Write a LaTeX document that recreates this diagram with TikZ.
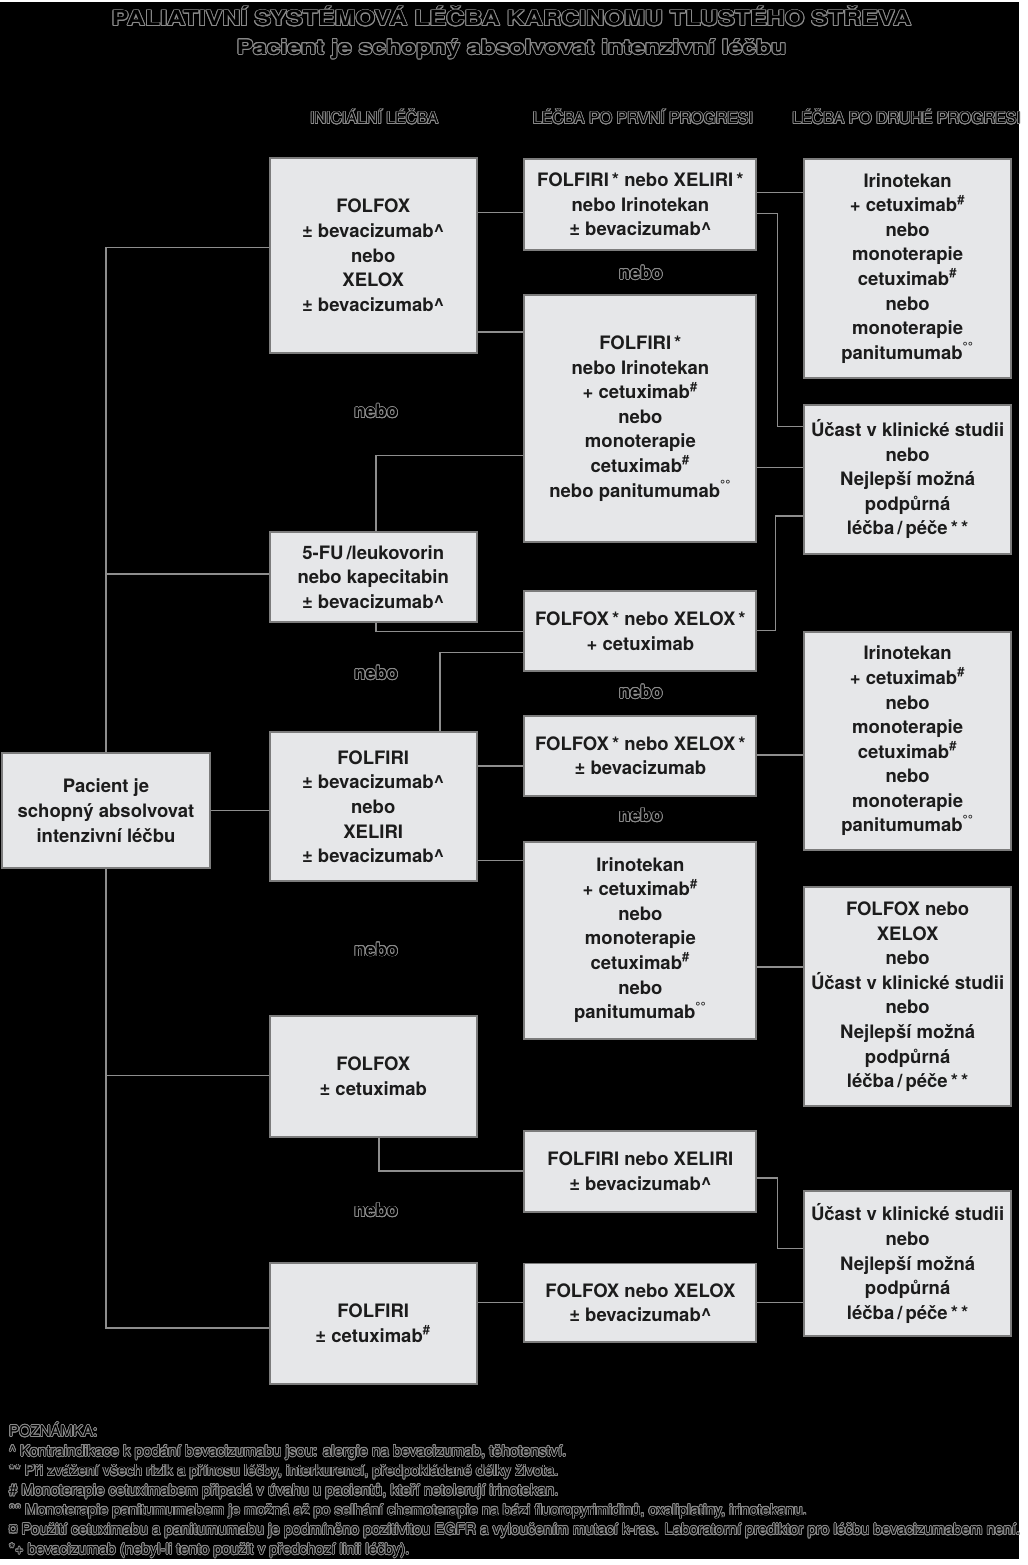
\documentclass[tikz,border=0pt]{standalone}
\usepackage{fontspec}
\setmainfont{TeX Gyre Heros}
\usepackage{contour}
\contourlength{0.4pt}
\definecolor{cBox}{HTML}{E6E7E9}
\definecolor{cEdge}{HTML}{7C7C7C}
\definecolor{cWire}{HTML}{8E8E8E}
\definecolor{cInk}{HTML}{1C1C1C}
\definecolor{cHalo}{HTML}{8A8A8A}
\usetikzlibrary{calc}
\newcommand{\sharpsup}{\textsuperscript{\#}}
\newcommand{\ringsup}{\textsuperscript{°°}}
\newcommand{\caretsup}{\textasciicircum}
\newcommand{\halo}[1]{\contour{cHalo}{#1}}

\begin{document}
\begin{tikzpicture}[x=0.5pt,y=-0.5pt,
      box/.style={draw=cEdge,line width=1pt,fill=cBox,text=cInk,inner sep=0pt,
        align=center,font=\fontsize{9.3}{12.35}\selectfont\bfseries},
      ini/.style={box,minimum width=104pt},
      prv/.style={box,minimum width=116.5pt},
      drh/.style={box,minimum width=104pt},
      wire/.style={draw=cWire,line width=0.75pt},
      orlab/.style={font=\fontsize{9.2}{11}\selectfont\bfseries,text=black},
      colhead/.style={font=\fontsize{8}{10}\selectfont,text=black,anchor=base},
      note/.style={font=\fontsize{7.55}{9}\selectfont,text=black,anchor=base west}]
    % page
    \fill[black] (0,0) rectangle (1024,1565);
    % title + column heads
    \node[font=\fontsize{10.5}{12}\selectfont\bfseries,text=black,anchor=base] (ttl) at (514,24.5)
      {\scalebox{1.2}[1]{\halo{PALIATIVNÍ SYSTÉMOVÁ LÉČBA KARCINOMU TLUSTÉHO STŘEVA}}};
    \node[font=\fontsize{10}{12}\selectfont\bfseries,text=black,anchor=base] (sub) at (514,53)
      {\scalebox{1.24}[1]{\halo{Pacient je schopný absolvovat intenzivní léčbu}}};
    \node[colhead] (hIni) at (376,123) {\halo{INICIÁLNÍ LÉČBA}};
    \node[colhead] (hPrv) at (646,123) {\halo{LÉČBA PO PRVNÍ PROGRESI}};
    \node[colhead] (hDrh) at (911,123) {\halo{LÉČBA PO DRUHÉ PROGRESI}};

    % start
    \node[box,minimum width=104.5pt,minimum height=58pt] (pac) at (106.5,813)
      {Pacient je\\schopný absolvovat\\intenzivní léčbu};

    % initial treatment
    \node[ini,minimum height=98pt] (i1) at (375,255)
      {FOLFOX\\± bevacizumab\caretsup\\nebo\\XELOX\\± bevacizumab\caretsup};
    \node[ini,minimum height=45pt] (i2) at (375,578)
      {5-FU\,/leukovorin\\nebo kapecitabin\\± bevacizumab\caretsup};
    \node[ini,minimum height=75pt] (i3) at (375,809)
      {FOLFIRI\\± bevacizumab\caretsup\\nebo\\XELIRI\\± bevacizumab\caretsup};
    \node[ini,minimum height=61pt] (i4) at (375,1080) {FOLFOX\\± cetuximab};
    \node[ini,minimum height=61pt] (i5) at (375,1328) {FOLFIRI\\± cetuximab\sharpsup};

    % after first progression
    \node[prv,minimum height=46pt] (p1) at (643.5,204)
      {FOLFIRI\,*\ nebo XELIRI\,*\\nebo Irinotekan\\± bevacizumab\caretsup};
    \node[prv,minimum height=124pt] (p2) at (643.5,419)
      {FOLFIRI\,*\\nebo Irinotekan\\+ cetuximab\sharpsup\\nebo\\monoterapie\\cetuximab\sharpsup\\nebo panitumumab\ringsup};
    \node[prv,minimum height=40.5pt] (p3) at (643.5,632.5)
      {FOLFOX\,*\ nebo XELOX\,*\\+ cetuximab};
    \node[prv,minimum height=40pt] (p4) at (643.5,758)
      {FOLFOX\,*\ nebo XELOX\,*\\± bevacizumab};
    \node[prv,minimum height=99pt] (p5) at (643.5,943)
      {Irinotekan\\+ cetuximab\sharpsup\\nebo\\monoterapie\\cetuximab\sharpsup\\nebo\\panitumumab\ringsup};
    \node[prv,minimum height=40.5pt] (p6) at (643.5,1175.5)
      {FOLFIRI nebo XELIRI\\± bevacizumab\caretsup};
    \node[prv,minimum height=39.5pt] (p7) at (643.5,1307.5)
      {FOLFOX nebo XELOX\\± bevacizumab\caretsup};

    % after second progression
    \node[drh,minimum height=110pt] (s1) at (912,268)
      {Irinotekan\\+ cetuximab\sharpsup\\nebo\\monoterapie\\cetuximab\sharpsup\\nebo\\monoterapie\\panitumumab\ringsup};
    \node[drh,minimum height=75pt] (s2) at (912,480)
      {Účast v klinické studii\\nebo\\Nejlepší možná\\podpůrná\\léčba\,/\,péče\,*\,*};
    \node[drh,minimum height=110pt] (s3) at (912,743)
      {Irinotekan\\+ cetuximab\sharpsup\\nebo\\monoterapie\\cetuximab\sharpsup\\nebo\\monoterapie\\panitumumab\ringsup};
    \node[drh,minimum height=110pt] (s4) at (912,1000)
      {FOLFOX nebo\\XELOX\\nebo\\Účast v klinické studii\\nebo\\Nejlepší možná\\podpůrná\\léčba\,/\,péče\,*\,*};
    \node[drh,minimum height=73pt] (s5) at (912,1268)
      {Účast v klinické studii\\nebo\\Nejlepší možná\\podpůrná\\léčba\,/\,péče\,*\,*};

    % "nebo" between alternatives
    \foreach \x/\y [count=\k] in {378/412,378/675,378/953,378/1215,644/273,644/694,644/818}
      \node[orlab] (nebo\k) at (\x,\y) {\halo{nebo}};

    % trunk
    \draw[wire] (pac.north) |- ($(i1.west)+(0,-8)$);
    \draw[wire] (pac.north) |- ($(i2.west)+(0,-3)$);
    \draw[wire] (pac.east) -- (pac.east -| i3.west);
    \draw[wire] (pac.south) |- ($(i4.west)+(0,-1)$);
    \draw[wire] (pac.south) |- ($(i5.west)+(0,5)$);
    % initial -> first progression
    \draw[wire] ($(i1.east)+(0,-43)$) -- ($(p1.west)+(0,8)$);
    \draw[wire] ($(i1.east)+(0,77)$) -- ($(p2.west)+(0,-87)$);
    \draw[wire] ($(i2.north)+(3,0)$) |- ($(p2.west)+(0,37)$);
    \draw[wire] ($(i2.south)+(3,0)$) |- ($(p3.west)+(0,0.5)$);
    \draw[wire] ($(i3.north)+(67,0)$) |- ($(p3.west)+(0,21.5)$);
    \draw[wire] ($(i3.east)+(0,-41)$) -- ($(p4.west)+(0,10)$);
    \draw[wire] ($(i3.east)+(0,54)$) -- ($(p5.west)+(0,-80)$);
    \draw[wire] ($(i4.south)+(6,0)$) |- ($(p6.west)+(0,-0.5)$);
    \draw[wire] ($(i5.east)+(0,-21)$) -- ($(p7.west)+(0,-0.5)$);
    % first -> second progression
    \draw[wire] ($(p1.east)+(0,-12)$) -- ($(s1.west)+(0,-76)$);
    \draw[wire] ($(p1.east)+(0,9)$) -- ++(20,0) |- ($(s2.west)+(0,-53)$);
    \draw[wire] ($(p2.east)+(0,49)$) -- ($(s2.west)+(0,-12)$);
    \draw[wire] ($(s2.west)+(0,37)$) -- ++(-28,0) |- ($(p3.east)+(0,-0.5)$);
    \draw[wire] ($(p4.east)+(0,-1)$) -- ($(s3.west)+(0,14)$);
    \draw[wire] ($(p5.east)+(0,27)$) -- ($(s4.west)+(0,-30)$);
    \draw[wire] ($(p6.east)+(0,6.5)$) -- ++(20,0) |- ($(s5.west)+(0,-15)$);
    \draw[wire] ($(p7.east)+(0,-0.5)$) -- ($(s5.west)+(0,39)$);

    % notes
    \foreach \k/\t in {0/{POZNÁMKA:},
        1/{\caretsup\ Kontraindikace k podání bevacizumabu jsou: alergie na bevacizumab, těhotenství.},
        2/{** Při zvážení všech rizik a přínosu léčby, interkurencí, předpokládané délky života.},
        3/{\# Monoterapie cetuximabem připadá v úvahu u pacientů, kteří netolerují irinotekan.},
        4/{°° Monoterapie panitumumabem je možná až po selhání chemoterapie na bázi fluoropyrimidinů, oxaliplatiny, irinotekanu.},
        5/{¤ Použití cetuximabu a panitumumabu je podmíněno pozitivitou EGFR a vyloučením mutací k-ras. Laboratorní prediktor pro léčbu bevacizumabem není.},
        6/{*+ bevacizumab (nebyl-li tento použit v předchozí linii léčby).}}
      \node[note] (nt\k) at (2,{1442+19.7*\k}) {\halo{\t}};
  \end{tikzpicture}
\end{document}
